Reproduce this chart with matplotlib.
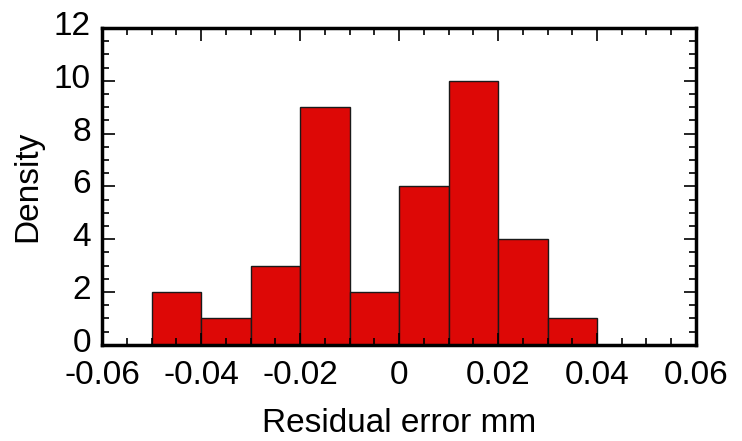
import numpy as np
import matplotlib.pyplot as plt
from matplotlib.ticker import MultipleLocator
from matplotlib.transforms import ScaledTranslation

# histogram of residual errors
bin_edges = [-0.05, -0.04, -0.03, -0.02, -0.01, 0.0, 0.01, 0.02, 0.03, 0.04]
density = [2, 1, 3, 9, 2, 6, 10, 4, 1]
x_ticks = [-0.06, -0.04, -0.02, 0, 0.02, 0.04, 0.06]
x_tick_labels = ['-0.06', '-0.04', '-0.02', '0', '0.02', '0.04', '0.06']

plt.rcParams['font.family'] = ['Liberation Sans', 'DejaVu Sans']

fig = plt.figure(figsize=(7.42, 4.41), dpi=100)
ax = fig.add_axes([0.1375, 0.218, 0.8005, 0.7185])

lefts = np.array(bin_edges[:-1])
widths = np.diff(bin_edges)
ax.bar(lefts, density, width=widths, align='edge',
       color='#dd0806', edgecolor='#1a1a1a', linewidth=1.0)

ax.set_xlim(-0.06, 0.06)
ax.set_ylim(0, 12)
ax.set_xticks(x_ticks)
ax.set_xticklabels(x_tick_labels)
ax.yaxis.set_major_locator(MultipleLocator(2))
ax.xaxis.set_minor_locator(MultipleLocator(0.005))
ax.yaxis.set_minor_locator(MultipleLocator(0.5))

for s in ax.spines.values():
    s.set_linewidth(2.5)
ax.tick_params(which='both', direction='in', top=True, right=True,
               labelsize=24)
ax.tick_params(axis='x', which='major', pad=11)
ax.tick_params(axis='y', which='major', pad=8)
ax.tick_params(which='major', length=9, width=1.2)
ax.tick_params(which='minor', length=5, width=1.2)

# y tick labels sit a bit above their ticks in the original
shift = ScaledTranslation(0, 0.05, fig.dpi_scale_trans)
for lab in ax.get_yticklabels():
    lab.set_transform(lab.get_transform() + shift)

ax.set_xlabel('Residual error mm', fontsize=24, labelpad=12)
ax.set_ylabel('Density', fontsize=24, labelpad=8)

fig.savefig('out.png', dpi=100)
